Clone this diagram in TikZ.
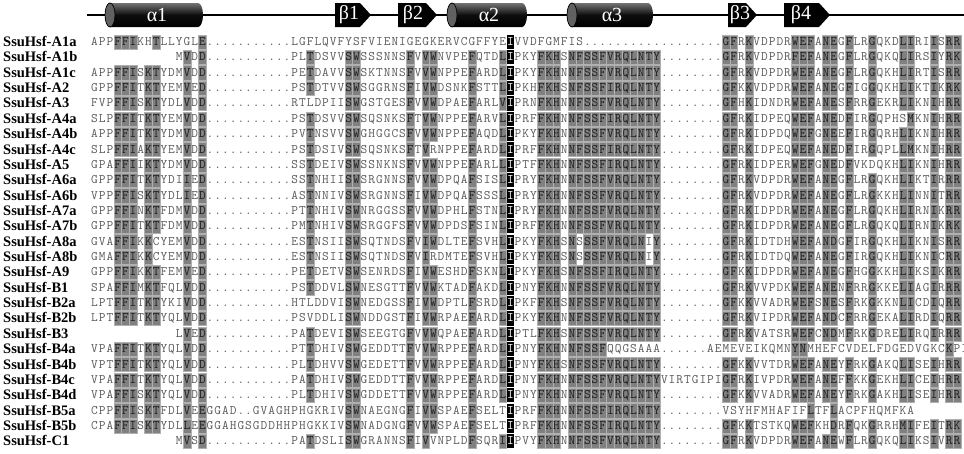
\documentclass[tikz,border=0pt]{standalone}
\usepackage{fontspec}
\newfontfamily\labfont{Liberation Serif}
\definecolor{cellgray}{HTML}{808080}
\definecolor{cellline}{HTML}{B0B0B0}
\definecolor{restext}{HTML}{5A5A5A}
\definecolor{shadetext}{HTML}{1E1E1E}
\newcount\colno
\def\xz{90.7}
\def\cw{7.7}
\def\rowy{0}
\tikzset{
  resbase/.style={inner sep=0pt, minimum width=7.7pt, minimum height=14.2pt,
    text height=7pt, text depth=0pt, font=\fontsize{13}{13}\ttfamily},
  resu/.style={resbase, text=restext},
  resg/.style={resbase, fill=cellgray, draw=cellline, line width=0.4pt, text=shadetext},
  resb/.style={resbase, fill=black, text=white},
  dotc/.style={resbase, text=restext},
  lab/.style={anchor=west, inner sep=0pt, text height=9pt, text depth=0pt,
    font=\labfont\bfseries\fontsize{14.5}{14.5}\selectfont},
  sslab/.style={inner sep=0pt, text=white, font=\labfont\fontsize{20}{20}\selectfont},
  bar/.style={line width=1.8pt, draw=black}
}
\def\drawres#1{%
  \global\advance\colno by 1
  \pgfmathsetmacro\cx{\xz+(\the\colno-0.5)*\cw}%
  \ifx#1-\let\act\relax
  \else\ifx#1.\def\act{\node[dotc] at (\cx,\rowy) {.};}%
  \else
    \ifnum\lccode`#1=`#1 \def\act{\node[resu] at (\cx,\rowy) {\uppercase{#1}};}%
    \else
      \ifnum\colno=55 \def\act{\node[resb] at (\cx,\rowy) {#1};}%
      \else \def\act{\node[resg] at (\cx,\rowy) {#1};}%
      \fi
    \fi
  \fi\fi
  \act}
\def\parseseq#1{%
  \ifx#1\relax \let\next\relax \else \def\next{\drawres#1\parseseq}\fi
  \next}
\newcommand\seqline[4]{% y, name, label, sequence
  \node[lab] (#2) at (3,#1) {#3};
  \def\rowy{#1}\global\colno=0
  \parseseq#4\relax}
\newcommand\helixshape[5]{% name, left x, right x, label x, label
  \shade[top color=black!55, bottom color=black, middle color=black!95]
    (#2,3) -- (#3-5,3) arc[start angle=90,end angle=-90,x radius=5pt,y radius=12pt]
    -- (#2,27) arc[start angle=270,end angle=90,x radius=5pt,y radius=12pt] -- cycle;
  \filldraw[fill=black!62, draw=black, line width=0.7pt] (#2,15) ellipse [x radius=5pt, y radius=12pt];
  \node[sslab] (#1) at (#4,15) {#5};}
\newcommand\strandshape[5]{% name, left x, right x, label x, label
  \fill[black] (#2,3) -- (#3-11,3) -- (#3,15) -- (#3-11,27) -- (#2,27) -- cycle;
  \node[sslab] (#1) at (#4,15) {#5};}
\begin{document}
\begin{tikzpicture}[x=1pt,y=-1pt]
\useasboundingbox (0,0) rectangle (964,453);
\fill[white] (0,0) rectangle (964,453);
% secondary structure bar
\coordinate (barL) at (87,15);
\coordinate (barR) at (964,15);
\draw[bar] (barL) -- (barR);
\helixshape{a1}{110}{203}{157}{α1}
\strandshape{b1}{335}{371}{349}{β1}
\strandshape{b2}{398}{437}{413}{β2}
\helixshape{a2}{452}{527}{489}{α2}
\helixshape{a3}{572}{653}{612}{α3}
\strandshape{b3}{728}{757}{740}{β3}
\strandshape{b4}{784}{830}{801}{β4}
% alignment
\seqline{42}{A1a}{SsuHsf-A1a}{appFFIkhTllyglE...........lgflqvfysfvienigegkervcgffyeIvvdfgmfis..................GFrKvdpdrWEFaNEgFlrGqkdLIriIsRR}
\seqline{57.36}{A1b}{SsuHsf-A1b}{-----------mVdD...........plTdsvvSWsssnnsFvVWnvpeFqtdLIpkyFKHsNFSSFVRQLNTY........GFrKvdpdrFEFaNEgFlrGqkqLIrsIyRK}
\seqline{72.72}{A1c}{SsuHsf-A1c}{appFFIsKTydmVdD...........peTdavvSWsktnnsFvVWnppeFardLIpkyFKHnNFSSFVRQLNTY........GFrKvdpdrWEFaNEgFlrGqkhLIrtIsRR}
\seqline{88.08}{A2}{SsuHsf-A2}{gppFFItKTyemVeD...........psTdtvvSWsggrnsFiVWdsnkFsttLIpkhFKHsNFSSFIRQLNTY........GFkKvdpdrWEFaNEgFigGqkhLIktIkRK}
\seqline{103.44}{A3}{SsuHsf-A3}{fvpFFIsKTydlVdD...........rtldpiiSWgstgesFvVWdpaeFarlVIprnFKHnNFSSFVRQLNTY........GFhKidndrWEFaNEsFrrGekrLIknIhRR}
\seqline{118.8}{A4a}{SsuHsf-A4a}{slpFFItKTyemVdD...........psTdsvvSWsqsnksFtVWnppeFarvLIprfFKHnNFSSFIRQLNTY........GFrKidpeqWEFaNEdFirGqphsMknIhRR}
\seqline{134.16}{A4b}{SsuHsf-A4b}{appFFItKTydmVdD...........pvTnsvvSWghggcsFvVWnppeFaqdLIpkyFKHnNFSSFVRQLNTY........GFrKidpdqWEFgNEeFirGqrhLIknIhRR}
\seqline{149.52}{A4c}{SsuHsf-A4c}{slpFFIaKTyemVdD...........psTdsivSWsqsnksFtVrnppeFardLIprfFKHnNFSSFIRQLNTY........GFrKidpeqWEFaNEdFirGqplLMknIhRR}
\seqline{164.88}{A5}{SsuHsf-A5}{gpaFFIiKTydmVdD...........ssTdeivSWssnknsFvVWnppeFarlLIptfFKHnNFSSFIRQLNTY........GFrKidperWEFgNEdFvkdqkhLIknIhRR}
\seqline{180.24}{A6a}{SsuHsf-A6a}{gppFFItKTydiIeD...........ssTnhiiSWsrgnnsFvVWdpqaFsisLIpryFKHnNFSSFVRQLNTY........GFrKvdpdrWEFaNEgFlrGqkhLIktIrRR}
\seqline{195.6}{A6b}{SsuHsf-A6b}{vppFFIsKTydlIeD...........asTnnivSWsrgnnsFiVWdpqaFsssLIpryFKHnNFSSFVRQLNTY........GFrKvdpdrWEFaNEgFlrGkkhLInnItRR}
\seqline{210.96}{A7a}{SsuHsf-A7a}{gppFFInKTfdmVdD...........ptTnhivSWnrggssFvVWdphlFstnLIpryFKHnNFSSFVRQLNTY........GFrKidpdrWEFaNEgFlrGqkhLIrnIkRR}
\seqline{226.32}{A7b}{SsuHsf-A7b}{gppFFItKTfdmVdD...........pmTnhivSWsrggfsFvVWdpdsFsinLIprfFKHnNFSSFVRQLNTY........GFrKidpdrWEFaNEgFlrGqkqLIrnIkRK}
\seqline{241.68}{A8a}{SsuHsf-A8a}{gvaFFIkKcyemVdD...........esTnsiiSWsqtndsFvIWdlteFsvhLIpkyFKHsNsSSFVRQLNiY........GFrKidtdhWEFaNDgFirGqkhLIknIsRR}
\seqline{257.04}{A8b}{SsuHsf-A8b}{gmaFFIkKcyemVdD...........esTnsiiSWsqtndsFvIrdmteFsvhLIpkyFKHsNsSSFVRQLNiY........GFrKidtdqWEFaNEgFirGqkhLIknIcRR}
\seqline{272.4}{A9}{SsuHsf-A9}{gppFFIkKTfemVeD...........peTdetvSWsenrdsFiVWeshdFsknLIpkyFKHsNFSSFIRQLNTY........GFkKidpdrWEFaNEgFhgGkkhLIksIkRR}
\seqline{287.76}{B1}{SsuHsf-B1}{spaFFImKTfqlVdD...........psTddvlSWnesgttFvVWktadFakdLIpnyFKHnNFSSFVRQLNTY........GFrKvvpdkWEFaNEnFrrGkkeLIagIrRR}
\seqline{303.12}{B2a}{SsuHsf-B2a}{lptFFItKTykiVdD...........htlddviSWnedgssFiVWdptlFsrdLIpkfFKHsNFSSFVRQLNTY........GFkKvvadrWEFsNEsFrkGkknLIcdIqRR}
\seqline{318.48}{B2b}{SsuHsf-B2b}{lptFFItKTyqlVdD...........psvddliSWnddgstFiVWrpaeFardLIpkyFKHnNFSSFVRQLNTY........GFrKvipdrWEFaNDcFrrGekaLIrdIqRR}
\seqline{333.84}{B3}{SsuHsf-B3}{-----------lVeD...........paTdeviSWseegtgFvVWqpaeFardLIptlFKHsNFSSFVRQLNTY........GFrKvatsrWEFcNDmFrkGdreLIrqIrRR}
\seqline{349.2}{B4a}{SsuHsf-B4a}{vpaFFItKTyqlVdD...........ptTdhivSWgeddttFvVWrppeFardLIpnyFKHnNFSSFqqgsaaa......aemeveikqmnYNmhefcvdelfdgedvgkcKpi}
\seqline{364.56}{B4b}{SsuHsf-B4b}{vptFFItKTyqlVdD...........plTdhvvSWgedettFvVWrppeFardLIpnyFKHsNFSSFVRQLNTY........GFkKvvtdrWEFaNEyFrkGakqLIseIhRR}
\seqline{379.92}{B4c}{SsuHsf-B4c}{vpaFFItKTyqlVdD...........paTdhivSWgeddttFvVWrppeFardLIpnyFKHnNFSSFVRQLNTYvirtgipiGFrKivpdrWEFaNEfFkkGekhLIceIhRR}
\seqline{395.28}{B4d}{SsuHsf-B4d}{vpaFFIsKTyqlVdD...........plTdhivSWgddettFvVWrppeFardLIpnyFKHnNFSSFVRQLNTY........GFkKvvadrWEFaNEyFrkGakhLIseIhRR}
\seqline{410.64}{B5a}{SsuHsf-B5a}{cppFFIsKTfdlVeEggad..gvaghphgkrivSWnaegngFiVWspaeFseltIprfFKHnNFSSFIRQLNTY........vsyhfmhafifLtfLacpfhqmfka}
\seqline{426}{B5b}{SsuHsf-B5b}{cpaFFIsKTydlLeEggahgsgddhhphgkkivSWnadgngFvVWspaeFseltIprfFKHnNFSSFIRQLNTY........GFkKtstkqWEFkhDrFqkGrrhMIfeItRK}
\seqline{441.36}{C1}{SsuHsf-C1}{-----------mVsD...........paTdsliSWgrannsFiVvnpldFsqrIIpvyFKHnNFSSFVRQLNTY........GFrKvdpdrWEFaNEwFlrGqkqLIksIvRR}
\end{tikzpicture}
\end{document}
